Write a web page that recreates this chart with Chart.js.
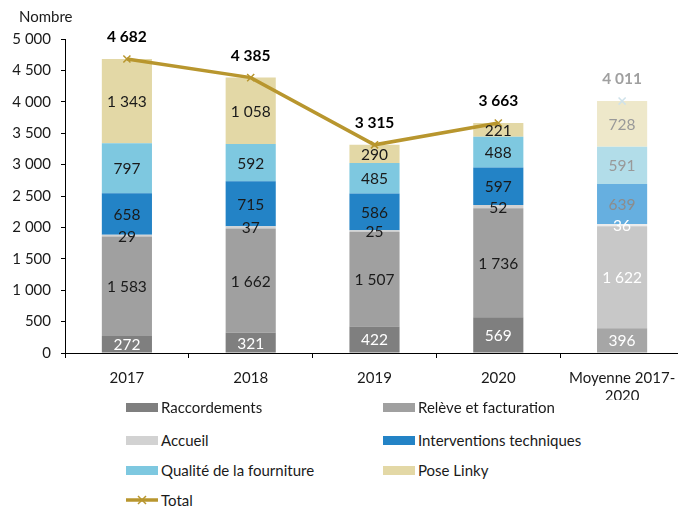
<!DOCTYPE html>
<html>
<head>
<meta charset="utf-8">
<script src="https://cdn.jsdelivr.net/npm/chart.js@4"></script>
<style>
  html, body { margin:0; padding:0; background:#fff; overflow:hidden; }
  #wrap { position:relative; width:678px; height:507px; overflow:hidden; }
  #chart { position:absolute; left:0; top:0; }
  .leg { position:absolute; display:flex; align-items:center; white-space:nowrap;
         font:15px Lato, sans-serif; color:#1a1a1a; transform:translateY(-50%); }
  .sw { width:32px; height:9px; margin-right:3px; }
</style>
</head>
<body>
<div id="wrap">
  <canvas id="chart" width="700" height="400"></canvas>
</div>
<script>
// data
const categories    = ["2017", "2018", "2019", "2020", ["Moyenne 2017-", "2020"]];
const raccordements = [272, 321, 422, 569, 396];
const releve        = [1583, 1662, 1507, 1736, 1622];
const accueil       = [29, 37, 25, 52, 36];
const interventions = [658, 715, 586, 597, 639];
const qualite       = [797, 592, 485, 488, 591];
const poseLinky     = [1343, 1058, 290, 221, 728];
const total         = [4682, 4385, 3315, 3663, 4011];
const yMin = 0, yMax = 5000, yStep = 500;

const FONT = "Lato, sans-serif";
const GOLD = "#b8962e";
const fmt = v => String(v).replace(/\B(?=(\d{3})+(?!\d))/g, " ");

// last bar (average) uses a washed-out shade
function shades(main, avg){ return [main, main, main, main, avg]; }
function labelCols(main, avg){ return [main, main, main, main, avg]; }

const bars = [
  { label:"Raccordements", data:raccordements, bg:shades("#7f7f7f", "#a6a6a6"), lc:labelCols("#ffffff", "#ffffff"), sw:"#7f7f7f" },
  { label:"Relève et facturation", data:releve, bg:shades("#a0a0a0", "#c8c8c8"), lc:labelCols("#1a1a1a", "#ffffff"), sw:"#a0a0a0" },
  { label:"Accueil", data:accueil, bg:shades("#d2d2d2", "#ececec"), lc:labelCols("#1a1a1a", "#ffffff"), sw:"#d2d2d2" },
  { label:"Interventions techniques", data:interventions, bg:shades("#2383c6", "#66afe0"), lc:labelCols("#1a1a1a", "#8c8c8c"), sw:"#2383c6" },
  { label:"Qualité de la fourniture", data:qualite, bg:shades("#7ec8e0", "#b2dde9"), lc:labelCols("#1a1a1a", "#999999"), sw:"#7ec8e0" },
  { label:"Pose Linky", data:poseLinky, bg:shades("#e3d8a6", "#eee8ca"), lc:labelCols("#1a1a1a", "#999999"), sw:"#e3d8a6" }
];

const datasets = bars.map(b => ({
  type:"bar",
  label:b.label,
  data:b.data,
  backgroundColor:b.bg,
  labelColors:b.lc,
  order:1,
  stack:"bars",
  categoryPercentage:1,
  barPercentage:0.405
}));

datasets.push({
  type:"line",
  label:"Total",
  data:total,
  stack:"total",
  order:0,
  borderColor:GOLD,
  borderWidth:3.5,
  segment:{ borderColor: c => c.p1DataIndex === 4 ? "rgba(0,0,0,0)" : GOLD },
  pointStyle:"crossRot",
  pointRadius:5,
  pointBorderWidth:1.5,
  pointBorderColor:[GOLD, GOLD, GOLD, GOLD, "#cfe2ea"],
  pointBackgroundColor:"rgba(0,0,0,0)",
  labelColors:["#000", "#000", "#000", "#000", "#a0a0a0"],
  tension:0
});

const labelPlugin = {
  id:"valueLabels",
  afterDatasetsDraw(chart){
    const ctx = chart.ctx;
    ctx.save();
    ctx.textAlign = "center";
    ctx.textBaseline = "middle";
    chart.data.datasets.forEach((ds, di) => {
      const meta = chart.getDatasetMeta(di);
      meta.data.forEach((el, i) => {
        const v = ds.data[i];
        ctx.fillStyle = ds.labelColors[i];
        if (ds.type === "line") {
          ctx.font = "bold 15.5px " + FONT;
          ctx.fillText(fmt(v), el.x, el.y - 22);
        } else {
          ctx.font = "15.5px " + FONT;
          ctx.fillText(fmt(v), el.x, (el.y + el.base) / 2 + 1);
        }
      });
    });
    ctx.font = "15px " + FONT;
    ctx.fillStyle = "#1a1a1a";
    ctx.textAlign = "left";
    ctx.fillText("Nombre", 19, 17);
    ctx.restore();
  }
};

const chart = new Chart(document.getElementById("chart"), {
  data:{ labels:categories, datasets:datasets },
  options:{
    responsive:false,
    animation:false,
    devicePixelRatio:1,
    layout:{ padding:{ top:39, left:0, right:16, bottom:0 } },
    plugins:{ legend:{ display:false }, tooltip:{ enabled:false } },
    scales:{
      x:{
        stacked:true,
        offset:true,
        grid:{ offset:true, drawOnChartArea:false, drawTicks:true, tickLength:5, color:"#000" },
        border:{ color:"#000", width:1 },
        ticks:{ color:"#1a1a1a", font:{ family:FONT, size:15 }, padding:11, maxRotation:0, autoSkip:false },
        afterFit(s){ s.height = 47; }
      },
      y:{
        stacked:true,
        min:yMin, max:yMax,
        grid:{ drawOnChartArea:false, drawTicks:true, tickLength:4, color:"#000" },
        border:{ color:"#000", width:1 },
        ticks:{ stepSize:yStep, color:"#1a1a1a", font:{ family:FONT, size:15 }, padding:10, callback:v => fmt(v) },
        afterFit(s){ s.width = 65; }
      }
    }
  },
  plugins:[labelPlugin]
});

// legend: two columns, built from the datasets
const legendPos = [[126,407],[383,407],[126,440],[383,440],[126,470],[383,470],[126,500]];
const wrap = document.getElementById("wrap");
chart.data.datasets.forEach((ds, i) => {
  const item = document.createElement("div");
  item.className = "leg";
  item.style.left = legendPos[i][0] + "px";
  item.style.top = legendPos[i][1] + "px";
  let swatch;
  if (ds.type === "line") {
    swatch = '<svg width="32" height="12" style="margin-right:3px"><line x1="0" y1="6" x2="32" y2="6" stroke="' + GOLD + '" stroke-width="3.5"/>' +
             '<path d="M12 2 L20 10 M20 2 L12 10" stroke="' + GOLD + '" stroke-width="1.5"/></svg>';
  } else {
    swatch = '<div class="sw" style="background:' + bars[i].sw + '"></div>';
  }
  item.innerHTML = swatch + "<span>" + ds.label + "</span>";
  wrap.appendChild(item);
});
</script>
</body>
</html>
